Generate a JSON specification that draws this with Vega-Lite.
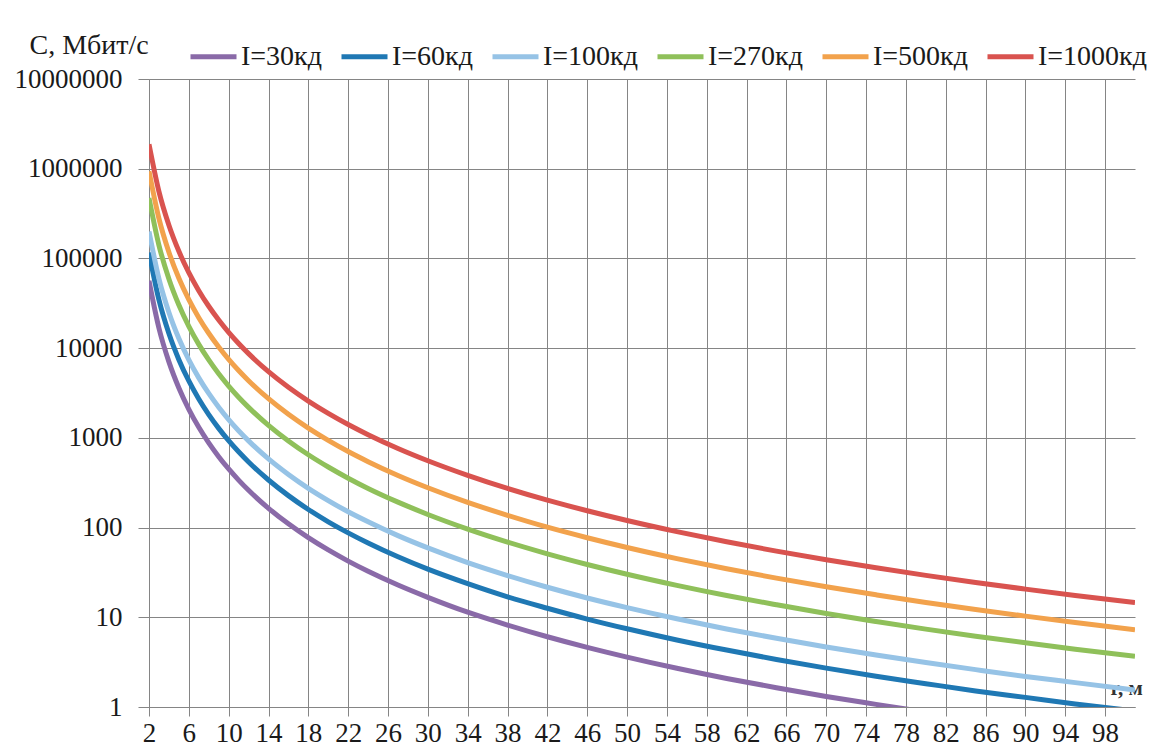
{
  "$schema": "https://vega.github.io/schema/vega-lite/v6.json",
  "width": 986,
  "height": 628,
  "autosize": {"type": "none"},
  "padding": {"left": 149, "top": 79, "right": 37, "bottom": 44},
  "background": "white",
  "config": {
    "view": {"stroke": null},
    "font": "Liberation Serif"
  },
  "data": {"values": [
    {"s":"I=30кд","r":2,"c":56250},{"s":"I=30кд","r":3,"c":16667},{"s":"I=30кд","r":4,"c":7031},{"s":"I=30кд","r":5,"c":3600},{"s":"I=30кд","r":6,"c":2083},{"s":"I=30кд","r":7,"c":1312},{"s":"I=30кд","r":8,"c":879},{"s":"I=30кд","r":9,"c":617},{"s":"I=30кд","r":10,"c":450},{"s":"I=30кд","r":11,"c":338},{"s":"I=30кд","r":12,"c":260},{"s":"I=30кд","r":14,"c":164},{"s":"I=30кд","r":16,"c":110},{"s":"I=30кд","r":18,"c":77.2},{"s":"I=30кд","r":20,"c":56.3},{"s":"I=30кд","r":22,"c":42.3},{"s":"I=30кд","r":24,"c":32.6},{"s":"I=30кд","r":27,"c":22.9},{"s":"I=30кд","r":30,"c":16.7},{"s":"I=30кд","r":34,"c":11.4},{"s":"I=30кд","r":38,"c":8.2},{"s":"I=30кд","r":42,"c":6.07},{"s":"I=30кд","r":46,"c":4.62},{"s":"I=30кд","r":50,"c":3.6},{"s":"I=30кд","r":55,"c":2.7},{"s":"I=30кд","r":60,"c":2.08},{"s":"I=30кд","r":65,"c":1.64},{"s":"I=30кд","r":70,"c":1.31},{"s":"I=30кд","r":75,"c":1.07},{"s":"I=30кд","r":80,"c":0.879},
    {"s":"I=60кд","r":2,"c":116250},{"s":"I=60кд","r":3,"c":34444},{"s":"I=60кд","r":4,"c":14531},{"s":"I=60кд","r":5,"c":7440},{"s":"I=60кд","r":6,"c":4306},{"s":"I=60кд","r":7,"c":2711},{"s":"I=60кд","r":8,"c":1816},{"s":"I=60кд","r":9,"c":1276},{"s":"I=60кд","r":10,"c":930},{"s":"I=60кд","r":11,"c":699},{"s":"I=60кд","r":12,"c":538},{"s":"I=60кд","r":14,"c":339},{"s":"I=60кд","r":16,"c":227},{"s":"I=60кд","r":18,"c":159},{"s":"I=60кд","r":20,"c":116},{"s":"I=60кд","r":22,"c":87.3},{"s":"I=60кд","r":24,"c":67.3},{"s":"I=60кд","r":27,"c":47.2},{"s":"I=60кд","r":30,"c":34.4},{"s":"I=60кд","r":34,"c":23.7},{"s":"I=60кд","r":38,"c":16.9},{"s":"I=60кд","r":42,"c":12.6},{"s":"I=60кд","r":46,"c":9.55},{"s":"I=60кд","r":50,"c":7.44},{"s":"I=60кд","r":55,"c":5.59},{"s":"I=60кд","r":60,"c":4.31},{"s":"I=60кд","r":65,"c":3.39},{"s":"I=60кд","r":70,"c":2.71},{"s":"I=60кд","r":75,"c":2.2},{"s":"I=60кд","r":80,"c":1.82},{"s":"I=60кд","r":85,"c":1.51},{"s":"I=60кд","r":90,"c":1.28},{"s":"I=60кд","r":95,"c":1.08},{"s":"I=60кд","r":101,"c":0.903},
    {"s":"I=100кд","r":2,"c":200000},{"s":"I=100кд","r":3,"c":59259},{"s":"I=100кд","r":4,"c":25000},{"s":"I=100кд","r":5,"c":12800},{"s":"I=100кд","r":6,"c":7407},{"s":"I=100кд","r":7,"c":4665},{"s":"I=100кд","r":8,"c":3125},{"s":"I=100кд","r":9,"c":2195},{"s":"I=100кд","r":10,"c":1600},{"s":"I=100кд","r":11,"c":1202},{"s":"I=100кд","r":12,"c":926},{"s":"I=100кд","r":14,"c":583},{"s":"I=100кд","r":16,"c":391},{"s":"I=100кд","r":18,"c":274},{"s":"I=100кд","r":20,"c":200},{"s":"I=100кд","r":22,"c":150},{"s":"I=100кд","r":24,"c":116},{"s":"I=100кд","r":27,"c":81.3},{"s":"I=100кд","r":30,"c":59.3},{"s":"I=100кд","r":34,"c":40.7},{"s":"I=100кд","r":38,"c":29.2},{"s":"I=100кд","r":42,"c":21.6},{"s":"I=100кд","r":46,"c":16.4},{"s":"I=100кд","r":50,"c":12.8},{"s":"I=100кд","r":55,"c":9.62},{"s":"I=100кд","r":60,"c":7.41},{"s":"I=100кд","r":65,"c":5.83},{"s":"I=100кд","r":70,"c":4.66},{"s":"I=100кд","r":75,"c":3.79},{"s":"I=100кд","r":80,"c":3.13},{"s":"I=100кд","r":85,"c":2.61},{"s":"I=100кд","r":90,"c":2.19},{"s":"I=100кд","r":95,"c":1.87},{"s":"I=100кд","r":101,"c":1.55},
    {"s":"I=270кд","r":2,"c":472500},{"s":"I=270кд","r":3,"c":140000},{"s":"I=270кд","r":4,"c":59063},{"s":"I=270кд","r":5,"c":30240},{"s":"I=270кд","r":6,"c":17500},{"s":"I=270кд","r":7,"c":11020},{"s":"I=270кд","r":8,"c":7383},{"s":"I=270кд","r":9,"c":5185},{"s":"I=270кд","r":10,"c":3780},{"s":"I=270кд","r":11,"c":2840},{"s":"I=270кд","r":12,"c":2188},{"s":"I=270кд","r":14,"c":1378},{"s":"I=270кд","r":16,"c":923},{"s":"I=270кд","r":18,"c":648},{"s":"I=270кд","r":20,"c":473},{"s":"I=270кд","r":22,"c":355},{"s":"I=270кд","r":24,"c":273},{"s":"I=270кд","r":27,"c":192},{"s":"I=270кд","r":30,"c":140},{"s":"I=270кд","r":34,"c":96.2},{"s":"I=270кд","r":38,"c":68.9},{"s":"I=270кд","r":42,"c":51},{"s":"I=270кд","r":46,"c":38.8},{"s":"I=270кд","r":50,"c":30.2},{"s":"I=270кд","r":55,"c":22.7},{"s":"I=270кд","r":60,"c":17.5},{"s":"I=270кд","r":65,"c":13.8},{"s":"I=270кд","r":70,"c":11},{"s":"I=270кд","r":75,"c":8.96},{"s":"I=270кд","r":80,"c":7.38},{"s":"I=270кд","r":85,"c":6.16},{"s":"I=270кд","r":90,"c":5.19},{"s":"I=270кд","r":95,"c":4.41},{"s":"I=270кд","r":101,"c":3.67},
    {"s":"I=500кд","r":2,"c":937500},{"s":"I=500кд","r":3,"c":277778},{"s":"I=500кд","r":4,"c":117188},{"s":"I=500кд","r":5,"c":60000},{"s":"I=500кд","r":6,"c":34722},{"s":"I=500кд","r":7,"c":21866},{"s":"I=500кд","r":8,"c":14648},{"s":"I=500кд","r":9,"c":10288},{"s":"I=500кд","r":10,"c":7500},{"s":"I=500кд","r":11,"c":5635},{"s":"I=500кд","r":12,"c":4340},{"s":"I=500кд","r":14,"c":2733},{"s":"I=500кд","r":16,"c":1831},{"s":"I=500кд","r":18,"c":1286},{"s":"I=500кд","r":20,"c":938},{"s":"I=500кд","r":22,"c":704},{"s":"I=500кд","r":24,"c":543},{"s":"I=500кд","r":27,"c":381},{"s":"I=500кд","r":30,"c":278},{"s":"I=500кд","r":34,"c":191},{"s":"I=500кд","r":38,"c":137},{"s":"I=500кд","r":42,"c":101},{"s":"I=500кд","r":46,"c":77.1},{"s":"I=500кд","r":50,"c":60},{"s":"I=500кд","r":55,"c":45.1},{"s":"I=500кд","r":60,"c":34.7},{"s":"I=500кд","r":65,"c":27.3},{"s":"I=500кд","r":70,"c":21.9},{"s":"I=500кд","r":75,"c":17.8},{"s":"I=500кд","r":80,"c":14.6},{"s":"I=500кд","r":85,"c":12.2},{"s":"I=500кд","r":90,"c":10.3},{"s":"I=500кд","r":95,"c":8.75},{"s":"I=500кд","r":101,"c":7.28},
    {"s":"I=1000кд","r":2,"c":1875000},{"s":"I=1000кд","r":3,"c":555556},{"s":"I=1000кд","r":4,"c":234375},{"s":"I=1000кд","r":5,"c":120000},{"s":"I=1000кд","r":6,"c":69444},{"s":"I=1000кд","r":7,"c":43732},{"s":"I=1000кд","r":8,"c":29297},{"s":"I=1000кд","r":9,"c":20576},{"s":"I=1000кд","r":10,"c":15000},{"s":"I=1000кд","r":11,"c":11270},{"s":"I=1000кд","r":12,"c":8681},{"s":"I=1000кд","r":14,"c":5466},{"s":"I=1000кд","r":16,"c":3662},{"s":"I=1000кд","r":18,"c":2572},{"s":"I=1000кд","r":20,"c":1875},{"s":"I=1000кд","r":22,"c":1409},{"s":"I=1000кд","r":24,"c":1085},{"s":"I=1000кд","r":27,"c":762},{"s":"I=1000кд","r":30,"c":556},{"s":"I=1000кд","r":34,"c":382},{"s":"I=1000кд","r":38,"c":273},{"s":"I=1000кд","r":42,"c":202},{"s":"I=1000кд","r":46,"c":154},{"s":"I=1000кд","r":50,"c":120},{"s":"I=1000кд","r":55,"c":90.2},{"s":"I=1000кд","r":60,"c":69.4},{"s":"I=1000кд","r":65,"c":54.6},{"s":"I=1000кд","r":70,"c":43.7},{"s":"I=1000кд","r":75,"c":35.6},{"s":"I=1000кд","r":80,"c":29.3},{"s":"I=1000кд","r":85,"c":24.4},{"s":"I=1000кд","r":90,"c":20.6},{"s":"I=1000кд","r":95,"c":17.5},{"s":"I=1000кд","r":101,"c":14.6}
  ]},
  "mark": {"type": "line", "strokeWidth": 5, "interpolate": "monotone", "clip": true},
  "encoding": {
    "x": {
      "field": "r", "type": "quantitative",
      "scale": {"domain": [2, 101], "nice": false, "zero": false},
      "axis": {
        "values": [2,6,10,14,18,22,26,30,34,38,42,46,50,54,58,62,66,70,74,78,82,86,90,94,98],
        "grid": true, "gridColor": "#858585", "gridWidth": 1,
        "domainColor": "#858585", "tickColor": "#858585", "tickSize": 9,
        "labelFont": "Liberation Serif", "labelFontSize": 27, "labelColor": "#1a1a1a", "labelPadding": 4,
        "labelFlush": false, "labelOverlap": false,
        "title": "r, м", "titleFont": "Liberation Serif", "titleFontSize": 21, "titleFontWeight": "bold",
        "titleColor": "#333333", "titleX": 961, "titleY": -19, "titleAlign": "left", "titleBaseline": "middle", "titleAnchor": null
      }
    },
    "y": {
      "field": "c", "type": "quantitative",
      "scale": {"type": "log", "domain": [1, 10000000], "nice": false},
      "axis": {
        "values": [1,10,100,1000,10000,100000,1000000,10000000],
        "format": "d",
        "grid": true, "gridColor": "#858585", "gridWidth": 1,
        "domainColor": "#858585", "tickColor": "#858585", "tickSize": 11,
        "labelFont": "Liberation Serif", "labelFontSize": 27, "labelColor": "#1a1a1a", "labelPadding": 16,
        "labelFlush": false, "labelOverlap": false,
        "title": "C, Мбит/с", "titleAngle": 0, "titleFont": "Liberation Serif", "titleFontSize": 28, "titleFontWeight": "normal",
        "titleColor": "#1a1a1a", "titleX": -120, "titleY": -34, "titleAlign": "left", "titleBaseline": "middle", "titleAnchor": null
      }
    },
    "color": {
      "field": "s", "type": "nominal",
      "scale": {
        "domain": ["I=30кд","I=60кд","I=100кд","I=270кд","I=500кд","I=1000кд"],
        "range": ["#8a6aa8","#1f78b4","#96c3e6","#8fc05a","#f2a24c","#d9534f"]
      },
      "legend": {
        "title": null, "orient": "none", "direction": "horizontal", "columns": 6,
        "legendX": 39, "legendY": -48,
        "symbolType": "stroke", "symbolSize": 2116, "symbolStrokeWidth": 5,
        "labelFont": "Liberation Serif", "labelFontSize": 28, "labelColor": "#1a1a1a",
        "labelOffset": 2, "columnPadding": 9, "labelLimit": 300
      }
    }
  }
}
